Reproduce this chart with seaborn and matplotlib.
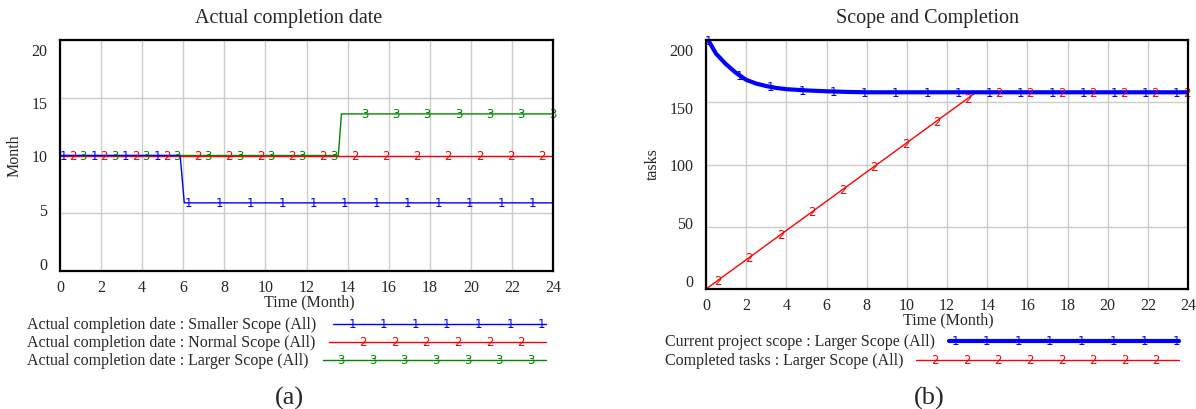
import numpy as np
import pandas as pd
import seaborn as sns
import matplotlib.pyplot as plt
from matplotlib.lines import Line2D
from matplotlib.transforms import ScaledTranslation

# (a) Actual completion date, Month vs Time (Month)
t_smaller = [0, 5.85, 6.05, 24]
smaller = [10, 10, 5.9, 5.9]
t_normal = [0, 24]
normal = [10, 10]
t_larger = [0, 13.55, 13.7, 24]
larger = [10, 10, 13.6, 13.6]

# (b) Scope and Completion, tasks vs Time (Month)
t_scope = [0, 0.5, 1, 1.5, 2, 2.5, 3, 3.5, 4, 5, 6, 7, 8, 24]
scope = [203, 189, 180.5, 173.5, 168, 165, 163, 161.5, 160.5, 159.5, 158.8, 158.3, 158, 158]
t_done = [0, 13.45, 24]
done = [0, 158, 158]

labels_a = ['Actual completion date : Smaller Scope (All)',
            'Actual completion date : Normal Scope (All)',
            'Actual completion date : Larger Scope (All)']
labels_b = ['Current project scope : Larger Scope (All)',
            'Completed tasks : Larger Scope (All)']

BLUE, RED, GREEN = '#0000ff', '#ff0000', '#008800'
W, H = 1196, 410

sns.set_style('white')
plt.rcParams['font.family'] = ['Liberation Serif', 'DejaVu Serif']

fig = plt.figure(figsize=(W / 100, H / 100), dpi=100)
ax1 = fig.add_axes([60 / W, 1 - 272 / H, 493 / W, 231 / H])
ax2 = fig.add_axes([706 / W, 1 - 290 / H, 482 / W, 249 / H])


def tag(ax, t, v, digit, color, start, step):
    # Vensim style number markers along a line
    for x in np.arange(start, 24.05, step):
        ax.text(x, np.interp(x, t, v), digit, color=color, ha='center', va='center',
                fontsize=8.5, family='DejaVu Sans', clip_on=False, zorder=5)


def style(ax, ymax, ystep):
    ax.set_xlim(0, 24)
    ax.set_ylim(0, ymax)
    ax.set_xticks(range(0, 25, 2))
    ax.set_yticks(range(0, ymax + 1, ystep))
    ax.grid(True, color='#cccccc', lw=1)
    ax.tick_params(length=0, labelsize=11.5, pad=6)
    ax.tick_params(axis='y', pad=9)
    ax.set_xlabel('')
    ax.set_ylabel('')
    for s in ax.spines.values():
        s.set_color('black')
        s.set_linewidth(1.6)
        s.set_zorder(6)
    # y labels pulled inwards from the frame, as the original tool draws them
    labs = ax.get_yticklabels()
    n = len(labs) - 1
    for i, lab in enumerate(labs):
        dy = 8.5 * (n / 2 - i) / (n / 2)
        lab.set_transform(lab.get_transform() + ScaledTranslation(0, dy / 100, fig.dpi_scale_trans))


# left panel
sns.lineplot(x=t_larger, y=larger, ax=ax1, color=GREEN, lw=1)
sns.lineplot(x=t_normal, y=normal, ax=ax1, color=RED, lw=1)
sns.lineplot(x=t_smaller, y=smaller, ax=ax1, color=BLUE, lw=1)
tag(ax1, t_smaller, smaller, '1', BLUE, 0.15, 1.523)
tag(ax1, t_normal, normal, '2', RED, 0.63, 1.523)
tag(ax1, t_larger, larger, '3', GREEN, 1.13, 1.523)
style(ax1, 20, 5)

# right panel
sns.lineplot(x=t_done, y=done, ax=ax2, color=RED, lw=1)
sns.lineplot(x=t_scope, y=scope, ax=ax2, color=BLUE, lw=3)
tag(ax2, t_done, done, '2', RED, 0.6, 1.555)
tag(ax2, t_scope, scope, '1', BLUE, 0.12, 1.555)
style(ax2, 200, 50)

# titles and axis labels
fig.text(289 / W, 1 - 18 / H, 'Actual completion date', ha='center', va='center', fontsize=14.5)
fig.text(927 / W, 1 - 18 / H, 'Scope and Completion', ha='center', va='center', fontsize=14.5)
fig.text(309 / W, 1 - 302 / H, 'Time (Month)', ha='center', va='center', fontsize=11.5)
fig.text(948 / W, 1 - 320 / H, 'Time (Month)', ha='center', va='center', fontsize=11.5)
fig.text(15 / W, 1 - 156 / H, 'Month', ha='center', va='center', rotation=90, fontsize=11.5)
fig.text(653 / W, 1 - 164 / H, 'tasks', ha='center', va='center', rotation=90, fontsize=11.5)
fig.text(289 / W, 1 - 398 / H, '(a)', ha='center', va='center', fontsize=19)
fig.text(929 / W, 1 - 398 / H, '(b)', ha='center', va='center', fontsize=19)


def legend_row(label, y, tx, x0, x1, color, lw, digit, m0, n):
    fig.text(tx / W, 1 - y / H, label, ha='left', va='center', fontsize=11.5)
    fig.add_artist(Line2D([x0 / W, x1 / W], [1 - y / H] * 2, color=color, lw=lw,
                          transform=fig.transFigure))
    for i in range(n):
        fig.text((m0 + i * 31.6) / W, 1 - y / H, digit, color=color, ha='center',
                 va='center', fontsize=8.5, family='DejaVu Sans')


legend_row(labels_a[0], 325, 27, 333, 546, BLUE, 1, '1', 352, 7)
legend_row(labels_a[1], 343, 27, 329, 546, RED, 1, '2', 363, 6)
legend_row(labels_a[2], 361, 27, 323, 546, GREEN, 1, '3', 341, 7)
legend_row(labels_b[0], 342, 665, 949, 1179, BLUE, 3, '1', 955, 8)
legend_row(labels_b[1], 361, 665, 916, 1179, RED, 1, '2', 935, 8)

fig.savefig('out.png', dpi=100)
